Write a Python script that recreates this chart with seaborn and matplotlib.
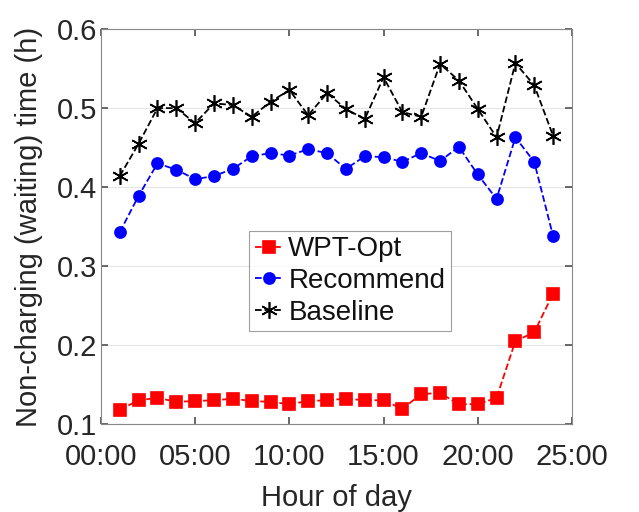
import numpy as np
import pandas as pd
import matplotlib
matplotlib.use("Agg")
import matplotlib.pyplot as plt
import seaborn as sns

hours = list(range(1, 25))
wpt_opt = [0.118, 0.130, 0.133, 0.128, 0.129, 0.130, 0.132, 0.129, 0.128, 0.125, 0.129, 0.130,
           0.132, 0.130, 0.130, 0.119, 0.138, 0.139, 0.125, 0.125, 0.133, 0.205, 0.216, 0.265]
recommend = [0.343, 0.389, 0.430, 0.422, 0.410, 0.414, 0.423, 0.439, 0.443, 0.440, 0.448, 0.443,
             0.423, 0.439, 0.438, 0.432, 0.443, 0.433, 0.451, 0.416, 0.385, 0.463, 0.432, 0.338]
baseline = [0.414, 0.455, 0.500, 0.500, 0.481, 0.506, 0.504, 0.489, 0.508, 0.523, 0.491, 0.519,
            0.499, 0.486, 0.539, 0.495, 0.489, 0.556, 0.535, 0.499, 0.463, 0.557, 0.529, 0.465]
xticks = [0, 5, 10, 15, 20, 25]
xtick_labels = ["00:00", "05:00", "10:00", "15:00", "20:00", "25:00"]
yticks = [0.1, 0.2, 0.3, 0.4, 0.5, 0.6]

sns.set_theme(style="white")
plt.rcParams['font.family'] = ['Liberation Sans', 'DejaVu Sans']

fig = plt.figure(figsize=(6.39, 5.12), dpi=100)
ax = fig.add_axes([0.158, 0.172, 0.737, 0.771])

series = [
    ("WPT-Opt", wpt_opt, "#ff0000", "s", 9),
    ("Recommend", recommend, "#0000ff", "o", 8),
    ("Baseline", baseline, "black", (6, 2, 0), 12),
]
for name, vals, col, mk, ms in series:
    df = pd.DataFrame({"hour": hours, "val": vals})
    sns.lineplot(data=df, x="hour", y="val", ax=ax, color=col, marker=mk, markersize=ms,
                 markeredgecolor=col, markeredgewidth=1.2, linestyle="--", linewidth=1.3,
                 dashes=(4, 3), label=name)

ax.set_xlim(0, 25)
ax.set_ylim(0.1, 0.6)
ax.set_xticks(xticks)
ax.set_xticklabels(xtick_labels)
ax.set_yticks(yticks)
ax.set_yticklabels([f"{v:.1f}" for v in yticks])
ax.yaxis.grid(True, color="#e6e6e6", linewidth=0.8)
ax.xaxis.grid(False)
ax.tick_params(axis="both", direction="in", length=5, color="#555555", labelsize=21,
               labelcolor="#262626", top=True, right=True, bottom=True, left=True)
ax.tick_params(axis="x", pad=14)
ax.tick_params(axis="y", pad=3)
for s in ax.spines.values():
    s.set_color("#888888")
    s.set_linewidth(0.8)

ax.set_xlabel("Hour of day", fontsize=21, color="#262626", labelpad=9)
ax.set_ylabel("Non-charging (waiting) time (h)", fontsize=21, color="#262626", labelpad=10)

leg = ax.legend(loc="center", bbox_to_anchor=(0.529, 0.362), fontsize=20, frameon=True,
                fancybox=False, edgecolor="#888888", handlelength=1.0, handletextpad=0.2,
                borderpad=0.2, labelspacing=0.2, borderaxespad=0)
for t in leg.get_texts():
    t.set_color("#111111")
leg.get_frame().set_linewidth(0.8)

fig.savefig("out.png", dpi=100)
